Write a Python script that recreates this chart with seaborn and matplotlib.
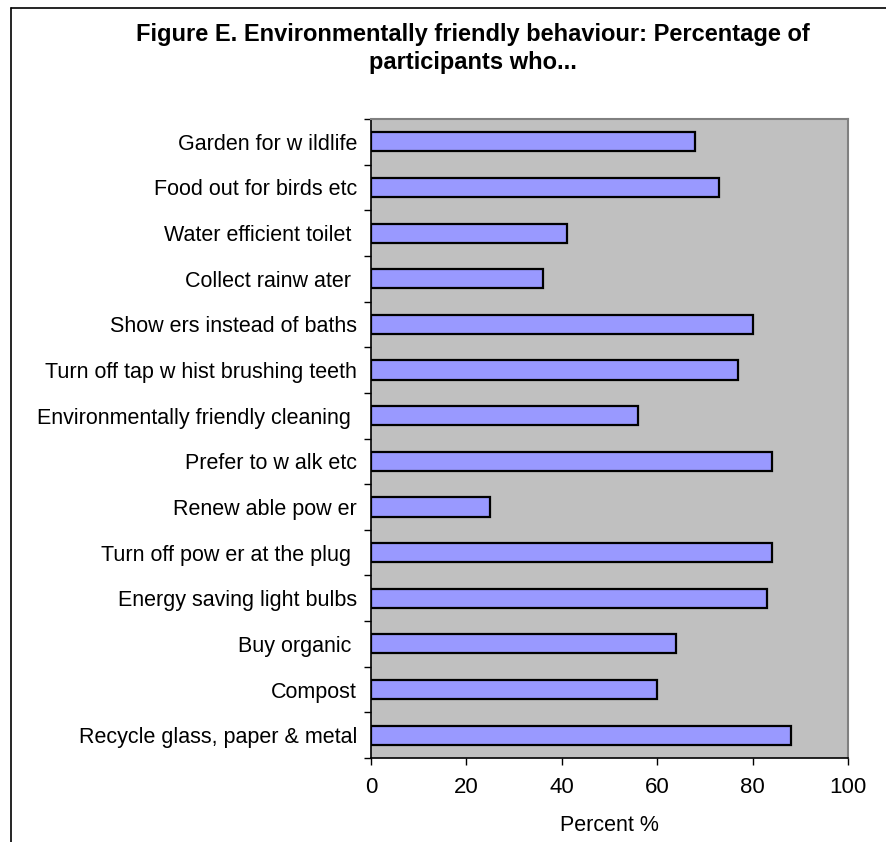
import matplotlib
matplotlib.use("Agg")
import matplotlib.pyplot as plt
from matplotlib.lines import Line2D
import seaborn as sns
import pandas as pd
import numpy as np

# Survey results: share of participants reporting each behaviour
behaviours = [
    "Garden for w ildlife",
    "Food out for birds etc",
    "Water efficient toilet ",
    "Collect rainw ater ",
    "Show ers instead of baths",
    "Turn off tap w hist brushing teeth",
    "Environmentally friendly cleaning ",
    "Prefer to w alk etc",
    "Renew able pow er",
    "Turn off pow er at the plug ",
    "Energy saving light bulbs",
    "Buy organic ",
    "Compost",
    "Recycle glass, paper & metal",
]
percent = [68, 73, 41, 36, 80, 77, 56, 84, 25, 84, 83, 64, 60, 88]
x_ticks = [0, 20, 40, 60, 80, 100]

df = pd.DataFrame({"behaviour": behaviours, "percent": percent})

sns.set_style("white")
plt.rcParams["font.family"] = ["Liberation Sans", "DejaVu Sans"]
plt.rcParams["text.color"] = "black"
plt.rcParams["xtick.color"] = "black"
plt.rcParams["ytick.color"] = "black"
plt.rcParams["axes.labelcolor"] = "black"

W, H = 887, 842
fig = plt.figure(figsize=(W / 100, H / 100), dpi=100)
left, right, top, bottom = 371, 848, 119, 758
ax = fig.add_axes([left / W, 1 - bottom / H, (right - left) / W, (bottom - top) / H])
ax.set_facecolor("#C0C0C0")

sns.barplot(data=df, y="behaviour", x="percent", orient="h", ax=ax,
            color="#9999FF", edgecolor="black", linewidth=1.6, width=0.42,
            saturation=1)

ax.set_xlim(0, 100)
ax.set_ylim(len(behaviours) - 0.5, -0.5)
ax.set_xticks(x_ticks)
ax.set_xticklabels([str(t) for t in x_ticks], fontsize=16)
ax.tick_params(axis="x", which="major", bottom=True, direction="out",
               length=5, width=1, color="black", pad=9)

# category labels without tick marks; ticks drawn between categories
ax.set_yticks(np.arange(len(behaviours)))
ax.set_yticklabels(behaviours, fontsize=15.5)
ax.tick_params(axis="y", which="major", left=True, length=0, pad=10)
ax.set_yticks(np.arange(len(behaviours) + 1) - 0.5, minor=True)
ax.tick_params(axis="y", which="minor", left=True, direction="out",
               length=5, width=1, color="black")

ax.set_ylabel("")
ax.set_xlabel("Percent %", fontsize=15.5, labelpad=12)

for side in ("left", "bottom"):
    ax.spines[side].set_color("black")
    ax.spines[side].set_linewidth(1.2)
for side in ("top", "right"):
    ax.spines[side].set_color("#808080")
    ax.spines[side].set_linewidth(1.5)

fig.text(473 / W, 1 - 34 / H, "Figure E. Environmentally friendly behaviour: Percentage of",
         ha="center", va="center", fontsize=17, fontweight="bold")
fig.text(473 / W, 1 - 63 / H, "participants who...",
         ha="center", va="center", fontsize=17, fontweight="bold")

# chart-area frame
fig.add_artist(Line2D([11 / W, 1.0], [1 - 8 / H, 1 - 8 / H], transform=fig.transFigure,
                      color="black", linewidth=1.2))
fig.add_artist(Line2D([11 / W, 11 / W], [0, 1 - 8 / H], transform=fig.transFigure,
                      color="black", linewidth=1.2))

fig.savefig("out.png", dpi=100)
